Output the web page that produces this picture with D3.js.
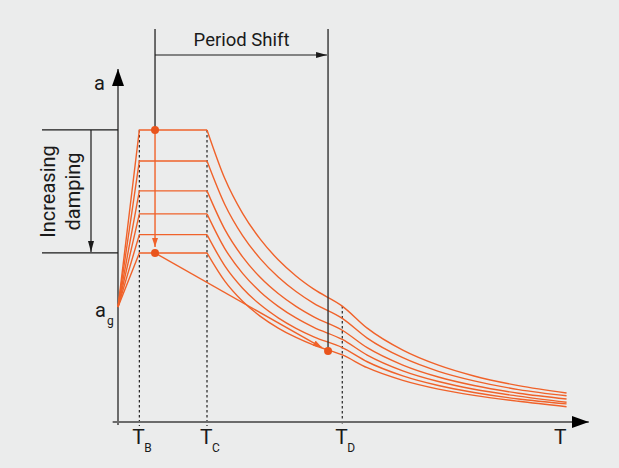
<!DOCTYPE html>
<html>
<head>
<meta charset="utf-8">
<script src="https://cdn.jsdelivr.net/npm/d3@7"></script>
<style>
  html, body { margin: 0; padding: 0; background: #ebecec; }
  svg { display: block; }
  text { font-family: Roboto, "Noto Sans", sans-serif; fill: #1a1a1a; }
</style>
</head>
<body>
<svg id="chart" width="619" height="468"></svg>
<script>
// ---- data (periods T in s, accelerations in units of a_g) ----
const agValue = 1.0;
const periodTB = 0.12;
const periodTC = 0.5;
const periodTD = 1.26;
const plateauLevels = [2.54, 2.27, 2.01, 1.81, 1.63, 1.47];
const descendingPeriods = [0.5, 0.6, 0.7, 0.8, 0.9, 1.0, 1.1, 1.26, 1.4, 1.6, 1.8, 2.0, 2.25, 2.52];
const descendingValues = [
  [2.54, 2.117, 1.814, 1.588, 1.411, 1.270, 1.155, 1.008, 0.816, 0.625, 0.494, 0.400, 0.316, 0.252],
  [2.27, 1.892, 1.621, 1.419, 1.261, 1.135, 1.032, 0.901, 0.730, 0.559, 0.441, 0.358, 0.282, 0.228],
  [2.01, 1.675, 1.436, 1.256, 1.117, 1.005, 0.914, 0.798, 0.646, 0.495, 0.391, 0.317, 0.250, 0.200],
  [1.81, 1.508, 1.293, 1.131, 1.006, 0.905, 0.823, 0.718, 0.582, 0.445, 0.352, 0.285, 0.225, 0.172],
  [1.63, 1.358, 1.164, 1.019, 0.906, 0.815, 0.741, 0.647, 0.524, 0.401, 0.317, 0.257, 0.200, 0.158],
  [1.47, 1.225, 1.050, 0.919, 0.817, 0.735, 0.668, 0.583, 0.472, 0.362, 0.286, 0.232, 0.180, 0.133]
];
// period shift: from (T0, top plateau) -> (T0, bottom plateau) -> (T1, bottom curve)
const shiftPeriods = [0.208, 1.18];
const shiftValues = [2.54, 1.47, 0.617];
const xTickLabels = [{main: "T", sub: "B", t: periodTB}, {main: "T", sub: "C", t: periodTC}, {main: "T", sub: "D", t: periodTD}];

// ---- scales ----
const svg = d3.select("#chart");
const x = d3.scaleLinear().domain([0, 2.6]).range([118, 580.8]);
const y = d3.scaleLinear().domain([0, 3.07]).range([422, 69]);

const orange = "#f0622a";
const dotOrange = "#e9541c";
const axisGrey = "#6b6b6b";

// defs: arrowheads
const defs = svg.append("defs");
function marker(id, color, w, h) {
  defs.append("marker").attr("id", id)
    .attr("viewBox", `0 0 ${w} ${h}`).attr("refX", w).attr("refY", h / 2)
    .attr("markerWidth", w).attr("markerHeight", h).attr("markerUnits", "userSpaceOnUse")
    .attr("orient", "auto")
    .append("path").attr("d", `M0,0L${w},${h/2}L0,${h}Z`).attr("fill", color);
}
marker("arrBlack", "#1a1a1a", 11, 6);
marker("arrOrange", orange, 9, 6);
marker("arrAxis", "#000", 17, 12);

// ---- dotted guide lines ----
const guides = [
  {t: periodTB, a: plateauLevels[0]},
  {t: periodTC, a: plateauLevels[0]},
  {t: periodTD, a: descendingValues[0][descendingPeriods.indexOf(periodTD)]}
];
svg.selectAll("line.guide").data(guides).enter().append("line")
  .attr("class", "guide")
  .attr("x1", d => x(d.t)).attr("x2", d => x(d.t))
  .attr("y1", d => y(d.a)).attr("y2", y(0) + 4)
  .attr("stroke", "#222").attr("stroke-width", 1.2).attr("stroke-dasharray", "2.5,2.5");

// ---- axes ----
svg.append("line").attr("x1", x(-0.03)).attr("x2", x(2.645)).attr("y1", y(0)).attr("y2", y(0))
  .attr("stroke", axisGrey).attr("stroke-width", 2).attr("marker-end", "url(#arrAxis)");
svg.append("line").attr("x1", x(0)).attr("x2", x(0)).attr("y1", y(0) + 3).attr("y2", y(3.07))
  .attr("stroke", axisGrey).attr("stroke-width", 2).attr("marker-end", "url(#arrAxis)");

// tick labels
const tl = svg.selectAll("g.tl").data(xTickLabels).enter().append("g").attr("class", "tl")
  .attr("transform", d => `translate(${x(d.t)},0)`);
tl.append("text").attr("x", -7).attr("y", 444).attr("font-size", 21).text(d => d.main);
tl.append("text").attr("x", 5).attr("y", 452).attr("font-size", 12).text(d => d.sub);
svg.append("text").attr("x", 554).attr("y", 444).attr("font-size", 21).text("T");
svg.append("text").attr("x", 94).attr("y", 90).attr("font-size", 20).text("a");
svg.append("text").attr("x", 95).attr("y", 317).attr("font-size", 20).text("a");
svg.append("text").attr("x", 107).attr("y", 325).attr("font-size", 12).text("g");

// ---- spectra ----
const lineLin = d3.line().x(d => x(d[0])).y(d => y(d[1]));
const lineSmooth = d3.line().x(d => x(d[0])).y(d => y(d[1])).curve(d3.curveMonotoneX);
plateauLevels.forEach((p, i) => {
  svg.append("path").attr("d", lineLin([[0, agValue], [periodTB, p], [periodTC, p]]))
    .attr("fill", "none").attr("stroke", orange).attr("stroke-width", 1.4);
  const pts = descendingPeriods.map((t, j) => [t, descendingValues[i][j]]);
  svg.append("path").attr("d", lineSmooth(pts))
    .attr("fill", "none").attr("stroke", orange).attr("stroke-width", 1.4);
});

// ---- period shift annotation ----
const sx0 = x(shiftPeriods[0]), sx1 = x(shiftPeriods[1]);
svg.append("line").attr("x1", sx0).attr("x2", sx0).attr("y1", 29).attr("y2", y(shiftValues[0]))
  .attr("stroke", "#333").attr("stroke-width", 1.4);
svg.append("line").attr("x1", sx1).attr("x2", sx1).attr("y1", 29).attr("y2", y(shiftValues[2]))
  .attr("stroke", "#333").attr("stroke-width", 1.4);
svg.append("line").attr("x1", sx0).attr("x2", sx1 - 1).attr("y1", 55).attr("y2", 55)
  .attr("stroke", "#1a1a1a").attr("stroke-width", 1.2).attr("marker-end", "url(#arrBlack)");
svg.append("text").attr("x", (sx0 + sx1) / 2).attr("y", 46).attr("text-anchor", "middle")
  .attr("font-size", 18.5).text("Period Shift");

// orange arrows
svg.append("line").attr("x1", sx0).attr("x2", sx0).attr("y1", y(shiftValues[0])).attr("y2", y(shiftValues[1]) - 6)
  .attr("stroke", orange).attr("stroke-width", 1.4).attr("marker-end", "url(#arrOrange)");
const dx = sx1 - sx0, dy = y(shiftValues[2]) - y(shiftValues[1]);
const len = Math.hypot(dx, dy);
svg.append("line").attr("x1", sx0).attr("y1", y(shiftValues[1]))
  .attr("x2", sx1 - dx / len * 7).attr("y2", y(shiftValues[2]) - dy / len * 7)
  .attr("stroke", orange).attr("stroke-width", 1.4).attr("marker-end", "url(#arrOrange)");

// dots
const dots = [[shiftPeriods[0], shiftValues[0]], [shiftPeriods[0], shiftValues[1]], [shiftPeriods[1], shiftValues[2]]];
svg.selectAll("circle.dot").data(dots).enter().append("circle").attr("class", "dot")
  .attr("cx", d => x(d[0])).attr("cy", d => y(d[1])).attr("r", 4).attr("fill", dotOrange);

// ---- increasing damping annotation ----
const yTop = y(plateauLevels[0]), yBot = y(plateauLevels[plateauLevels.length - 1]);
[yTop, yBot].forEach(v => {
  svg.append("line").attr("x1", 42).attr("x2", x(0)).attr("y1", v).attr("y2", v)
    .attr("stroke", "#1a1a1a").attr("stroke-width", 1.2);
});
svg.append("line").attr("x1", 91).attr("x2", 91).attr("y1", yTop).attr("y2", yBot - 1)
  .attr("stroke", "#1a1a1a").attr("stroke-width", 1.2).attr("marker-end", "url(#arrBlack)");
const dt = svg.append("text").attr("transform", `translate(0,${(yTop + yBot) / 2}) rotate(-90)`)
  .attr("text-anchor", "middle").attr("font-size", 20);
dt.append("tspan").attr("x", 0).attr("y", 55).text("Increasing");
dt.append("tspan").attr("x", 0).attr("y", 80).text("damping");
</script>
</body>
</html>
